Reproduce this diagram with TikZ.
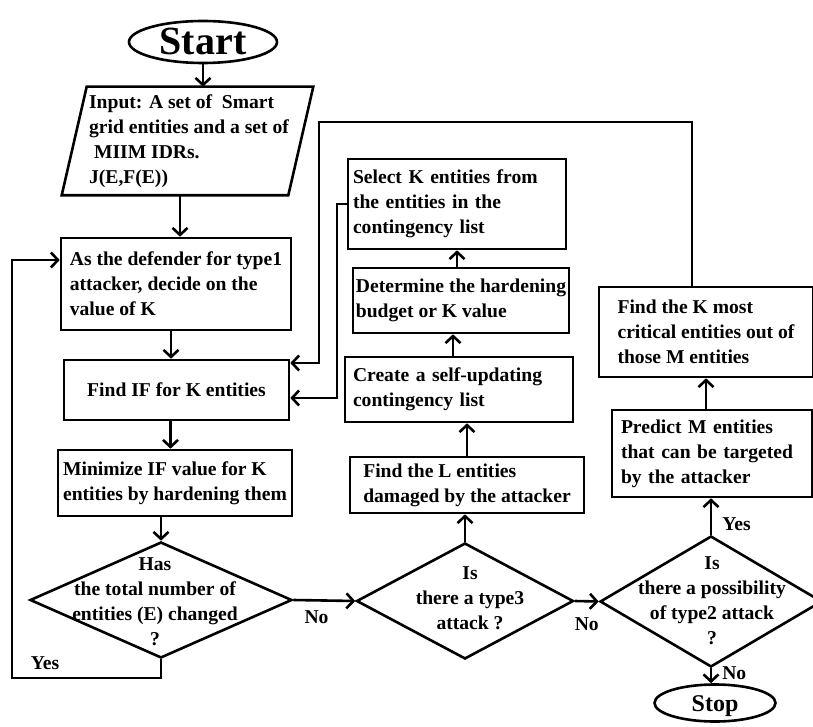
\documentclass[tikz,border=0pt]{standalone}
\usepackage{fontspec}
\setmainfont{Liberation Serif}
\usetikzlibrary{shapes.geometric,arrows.meta,calc}

\begin{document}
\begin{tikzpicture}[x=1pt,y=-1pt,line width=2.6pt,>={Straight Barb[length=7pt,width=15pt]},font=\fontsize{19.6}{25}\selectfont\bfseries]
\tikzstyle{pb} = [draw,shape=rectangle,align=left,inner sep=1pt]
\tikzstyle{dc} = [draw,shape=diamond,inner sep=0pt]
\tikzstyle{tm} = [draw,shape=ellipse,inner sep=0pt,text depth=0pt]
\tikzstyle{tx} = [align=center,inner sep=0pt]
\tikzstyle{lb} = [inner sep=1pt]
\useasboundingbox (0,0) rectangle (813,727);
% left column
\node[tm,minimum width=148pt,minimum height=42pt,text height=26pt,font=\fontsize{40}{40}\selectfont\bfseries] (start) at (203,42) {Start};
\node[align=left,minimum width=224pt,minimum height=106pt,inner sep=0pt] (in) at (189,141) {Input: A set of~ Smart\\grid entities and a set of\\~MIIM IDRs.\\J(E,F(E))};
\draw ($(in.north west)+(11,0)$) -- ($(in.north east)+(11,0)$) -- ($(in.south east)+(-14,0)$) -- ($(in.south west)+(-14,0)$) -- cycle;
\node[pb,minimum width=230pt,minimum height=92pt] (b1) at (176,284) {As the defender for type1\\attacker, decide on the\\value of K};
\node[pb,minimum width=225pt,minimum height=60pt,align=center] (b2) at (176.5,390) {Find IF for K entities};
\node[pb,minimum width=234pt,minimum height=66pt] (b3) at (175,483) {Minimize IF value for K\\entities by hardening them};
\node[dc,minimum width=262pt,minimum height=116pt] (d1) at (161,600) {};
\node[tx] (d1t) at (155,602) {Has\\the total number of\\entities (E) changed\\?};
% middle column
\node[pb,text width=208pt,inner xsep=5pt,minimum height=90pt] (sel) at (457,204) {Select K entities from\\the entities in the\\contingency list};
\node[pb,minimum width=216pt,minimum height=65pt] (det) at (461,300.5) {Determine the hardening\\budget or K value};
\node[pb,text width=212pt,inner xsep=8pt,minimum height=65pt] (cre) at (459,389.5) {Create a self-updating\\contingency list};
\node[pb,minimum width=234pt,minimum height=56pt] (dam) at (467,485) {Find the L entities\\damaged by the attacker};
\node[dc,minimum width=217pt,minimum height=116pt] (d2) at (465,601) {};
\node[tx] (d2t) at (470,598) {Is\\there a type3\\attack ?};
% right column
\node[pb,minimum width=214pt,minimum height=90pt] (crit) at (706,332) {Find the K most\\critical entities out of\\those M entities};
\node[pb,text width=182pt,inner xsep=9pt,minimum height=87pt] (pred) at (712,453.5) {Predict M entities\\that can be targeted\\by the attacker};
\node[dc,minimum width=222pt,minimum height=131pt] (d3) at (711,601.5) {};
\node[tx] (d3t) at (712,601) {Is\\there a possibility\\of type2 attack\\?};
\node[tm,minimum width=121pt,minimum height=37pt,text height=16pt,font=\fontsize{24}{24}\selectfont\bfseries] (stop) at (715,703) {Stop};
\coordinate (j1) at (337,0);
\coordinate (j2) at (319,122);
\coordinate (j3) at (12,678);
% connectors
\draw[->] (start) -- (start |- in.north);
\draw[->] ([xshift=-9pt]in.south) -- ([xshift=-9pt]in.south |- b1.north);
\draw[->] ([xshift=-5pt]b1.south) -- ([xshift=-5pt]b1.south |- b2.north);
\draw[->] ([xshift=-6pt]b2.south) -- ([xshift=-6pt]b2.south |- b3.north);
\draw[->] (b3.south -| d1.north) -- (d1.north);
\draw[->] (d1.south) |- (j3) |- ([yshift=24pt]b1.west);
\node[lb] (yes1) at (45,663) {Yes};
\draw[->] (d1.east) -- (d2.west) node[lb,pos=0.375,below=8pt] (no1) {No};
\draw[->] (d2.north) -- (d2.north |- dam.south);
\draw[->] (dam.north) -- (dam.north |- cre.south);
\draw[->] ([xshift=-6pt]cre.north) -- ([xshift=-6pt]cre.north |- det.south);
\draw[->] ([xshift=-4pt]det.north) -- ([xshift=-4pt]det.north |- sel.south);
\draw[->] (sel.west) -- (sel.west -| j1) |- ([yshift=-8pt]b2.east);
\draw[->] ([xshift=-14pt]crit.north) |- (j2) |- ([yshift=27pt]b2.east);
\draw[->] (d2.east) -- (d3.west) node[lb,midway,below=14pt] (no2) {No};
\draw[->] (d3.north) -- (d3.north |- pred.south) node[lb,pos=0.3,right=9pt] (yes2) {Yes};
\draw[->] (crit.south |- pred.north) -- (crit.south);
\draw[->] (d3.south) -- (d3.south |- stop.north) node[lb,pos=0.3,right=9pt] (no3) {No};
\end{tikzpicture}
\end{document}
